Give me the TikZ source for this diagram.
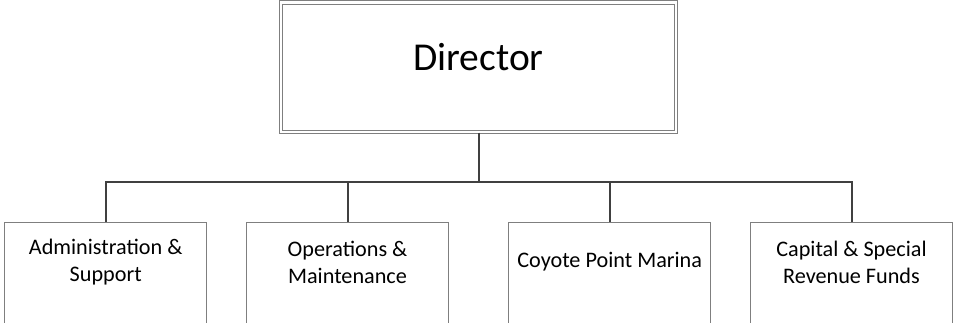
\documentclass[tikz,border=0pt]{standalone}
\usepackage{fontspec}
\setmainfont{Carlito}
\definecolor{boxgray}{HTML}{7F7F7F}
\definecolor{linegray}{HTML}{404040}
\begin{document}
\begin{tikzpicture}[x=1pt,y=-1pt,
  director/.style={draw=boxgray, line width=1pt, double=white, double distance=2.4pt,
    minimum width=395pt, minimum height=129.5pt, inner sep=0pt,
    font=\fontsize{39.5}{46}\selectfont, text height=25pt, text depth=19pt},
  unitbox/.style={draw=boxgray, line width=1pt, minimum width=202pt, minimum height=150pt,
    anchor=north, inner sep=0pt},
  lbl/.style={align=center, inner sep=0pt, font=\fontsize{22.2}{27}\selectfont},
  conn/.style={draw=linegray, line width=2pt}]
\useasboundingbox (0,0) rectangle (953,322);
\clip (0,0) rectangle (953,322);
\node[director] (dir) at (478.5,67.25) {Director};
\coordinate (bus) at (478.5,181.5);
\node[unitbox] (b1) at (105.7,222) {};
\node[unitbox] (b2) at (347.5,222) {};
\node[unitbox] (b3) at (609.7,222) {};
\node[unitbox] (b4) at (851.5,222) {};
\node[lbl] (t1) at (105.7,262) {Administration \&\\Support};
\node[lbl] (t2) at (347.5,262) {Operations \&\\Maintenance};
\node[lbl] (t3) at (609.7,262) {Coyote Point Marina};
\node[lbl] (t4) at (851.5,262) {Capital \& Special\\Revenue Funds};
\draw[conn] (dir.south) -- (bus);
\draw[conn] (b1.north) -- (b1.north |- bus) -- (b4.north |- bus) -- (b4.north);
\draw[conn] (b2.north) -- (b2.north |- bus);
\draw[conn] (b3.north) -- (b3.north |- bus);
\end{tikzpicture}
\end{document}
